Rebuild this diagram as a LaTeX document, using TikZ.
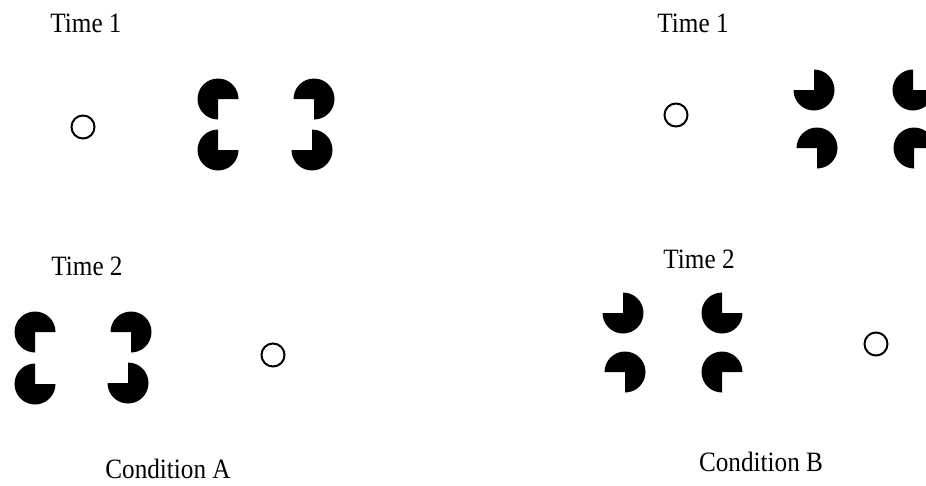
\documentclass[tikz,border=0pt]{standalone}
\usepackage{fontspec}
\setmainfont[FakeStretch=0.9]{Liberation Serif}

\begin{document}
\begin{tikzpicture}[x=1pt, y=-1pt,
  pac/.style={fill=black},
  ring/.style={draw=black, line width=2pt},
  lbl/.style={anchor=base, inner sep=0pt, font=\fontsize{28}{32}\selectfont}]
\useasboundingbox (0,0) rectangle (926,485);
\clip (0,0) rectangle (926,485);
% Condition A, time 1
\node[lbl] (timeAone) at (86,32) {Time 1};
\draw[ring] (83,127) circle (11.5);
\fill[pac] (218,99) -- ++(90:20.5) arc[start angle=90, end angle=360, radius=20.5] -- cycle;
\fill[pac] (314,99) -- ++(180:20.5) arc[start angle=180, end angle=450, radius=20.5] -- cycle;
\fill[pac] (218,150) -- ++(0:20.5) arc[start angle=0, end angle=270, radius=20.5] -- cycle;
\fill[pac] (312,150) -- ++(270:20.5) arc[start angle=270, end angle=540, radius=20.5] -- cycle;
% Condition A, time 2
\node[lbl] (timeAtwo) at (87,275) {Time 2};
\fill[pac] (35,332) -- ++(90:20.5) arc[start angle=90, end angle=360, radius=20.5] -- cycle;
\fill[pac] (131,332) -- ++(180:20.5) arc[start angle=180, end angle=450, radius=20.5] -- cycle;
\fill[pac] (35,384) -- ++(0:20.5) arc[start angle=0, end angle=270, radius=20.5] -- cycle;
\fill[pac] (128,383) -- ++(270:20.5) arc[start angle=270, end angle=540, radius=20.5] -- cycle;
\draw[ring] (273,355) circle (11.5);
\node[lbl] (condA) at (168,478) {Condition A};
% Condition B, time 1
\node[lbl] (timeBone) at (693,32) {Time 1};
\draw[ring] (676,115) circle (11.5);
\fill[pac] (814,90) -- ++(270:20.5) arc[start angle=270, end angle=540, radius=20.5] -- cycle;
\fill[pac] (913,90) -- ++(0:20.5) arc[start angle=0, end angle=270, radius=20.5] -- cycle;
\fill[pac] (817,148) -- ++(180:20.5) arc[start angle=180, end angle=450, radius=20.5] -- cycle;
\fill[pac] (914,148) -- ++(90:20.5) arc[start angle=90, end angle=360, radius=20.5] -- cycle;
% Condition B, time 2
\node[lbl] (timeBtwo) at (699,268) {Time 2};
\fill[pac] (623,313) -- ++(270:20.5) arc[start angle=270, end angle=540, radius=20.5] -- cycle;
\fill[pac] (722,313) -- ++(0:20.5) arc[start angle=0, end angle=270, radius=20.5] -- cycle;
\fill[pac] (625,372) -- ++(180:20.5) arc[start angle=180, end angle=450, radius=20.5] -- cycle;
\fill[pac] (722,372) -- ++(90:20.5) arc[start angle=90, end angle=360, radius=20.5] -- cycle;
\draw[ring] (876,344) circle (11.5);
\node[lbl] (condB) at (761,471) {Condition B};
\end{tikzpicture}
\end{document}
